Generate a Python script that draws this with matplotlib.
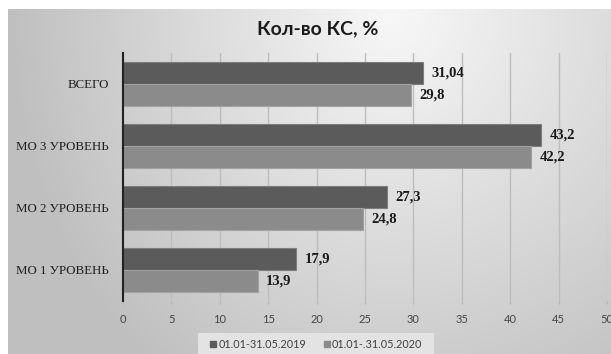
import numpy as np
import matplotlib
matplotlib.use("Agg")
import matplotlib.pyplot as plt
from matplotlib.patches import Rectangle
from matplotlib.lines import Line2D

# ---- data ----
categories = ['МО 1 УРОВЕНЬ', 'МО 2 УРОВЕНЬ', 'МО 3 УРОВЕНЬ', 'ВСЕГО']
values_2019 = [17.9, 27.3, 43.2, 31.04]
values_2020 = [13.9, 24.8, 42.2, 29.8]
series_names = ['01.01-31.05.2019', '01.01-.31.05.2020']
title = 'Кол-во КС, %'
xticks = [0, 5, 10, 15, 20, 25, 30, 35, 40, 45, 50]

W, H = 611, 354
fig = plt.figure(figsize=(W / 100, H / 100), dpi=100)

# ---- background gradient ----
bg = fig.add_axes([0, 0, 1, 1], zorder=-10)
yy, xx = np.mgrid[0:H, 0:W]
cx, cy = 390.0, 15.0
sx = np.where(xx < cx, 363.0, 440.0)
dx = (xx - cx) / sx
dy = (yy - cy) / 428.0
r = np.sqrt(dx ** 2 + dy ** 2)
val = np.clip(0.97 - 0.21 * r, 0.75, 1.0)
img = np.dstack([val, val, val])
img[:, :8, :] = 1.0
img[:9, :, :] = 1.0
bg.imshow(img, extent=[0, W, H, 0], aspect='auto', interpolation='bilinear')
bg.set_xlim(0, W)
bg.set_ylim(H, 0)
bg.axis('off')

# legend box
bg.add_patch(Rectangle((198, 333), 236, 24, facecolor='#e3e3e3', edgecolor='none'))

# ---- main axes ----
left_px, right_px, top_px, bot_px = 123, 607, 53, 301
ax = fig.add_axes([left_px / W, 1 - bot_px / H, (right_px - left_px) / W, (bot_px - top_px) / H])
ax.patch.set_alpha(0)

y = np.arange(len(categories))
h = 0.355
off = 0.185
c_dark, c_light = '#5b5b5b', '#8b8b8b'
ax.barh(y + off, values_2019, height=h, color=c_dark, edgecolor='#7d7d7d', linewidth=0.8, zorder=3)
ax.barh(y - off, values_2020, height=h, color=c_light, edgecolor='#a2a2a2', linewidth=0.8, zorder=3)

def fmt(v):
    s = f'{v:g}'
    return s.replace('.', ',')

for yi, v in zip(y + off, values_2019):
    ax.text(v + 0.85, yi, fmt(v), va='center', ha='left', fontsize=10.5, fontweight='bold',
            family='Liberation Serif', color='#1a1a1a', zorder=4)
for yi, v in zip(y - off, values_2020):
    ax.text(v + 0.85, yi, fmt(v), va='center', ha='left', fontsize=10.5, fontweight='bold',
            family='Liberation Serif', color='#1a1a1a', zorder=4)

ax.set_xlim(0, 50)
ax.set_ylim(-0.5, len(categories) - 0.5)
ax.set_xticks(xticks)
ax.set_xticklabels([str(t) for t in xticks], fontsize=8, family='Lato', color='#454545')
ax.set_yticks(y)
ax.set_yticklabels(categories, fontsize=9.3, family='Liberation Serif', color='#1e1e1e')
ax.tick_params(axis='y', length=0, pad=10)
ax.tick_params(axis='x', length=2.5, width=1, color='#b5b5b5', pad=7)
ax.xaxis.get_major_ticks()[0].tick1line.set_color('#222222')
ax.grid(axis='x', color='#bdbdbd', linewidth=1, zorder=0)
ax.set_axisbelow(True)
for s in ['top', 'right', 'bottom']:
    ax.spines[s].set_visible(False)
ax.spines['left'].set_color('#222222')
ax.spines['left'].set_linewidth(1.5)
ax.spines['left'].set_zorder(5)

# title
fig.text(318 / W, 1 - 29 / H, title, ha='center', va='center', fontsize=14,
         fontweight='bold', family='Lato', color='#1a1a1a')

# legend
handles = [Line2D([], [], marker='s', linestyle='none', markersize=4.5, color=c_dark),
           Line2D([], [], marker='s', linestyle='none', markersize=4.5, color=c_light)]
fig.legend(handles, series_names, loc='center', bbox_to_anchor=(316 / W, 1 - 344 / H),
           ncol=2, frameon=False, prop={'family': 'Lato', 'size': 7.8},
           labelcolor='#404040', handlelength=0.6, handletextpad=0.2, columnspacing=1.6)

fig.savefig('out.png', dpi=100)
